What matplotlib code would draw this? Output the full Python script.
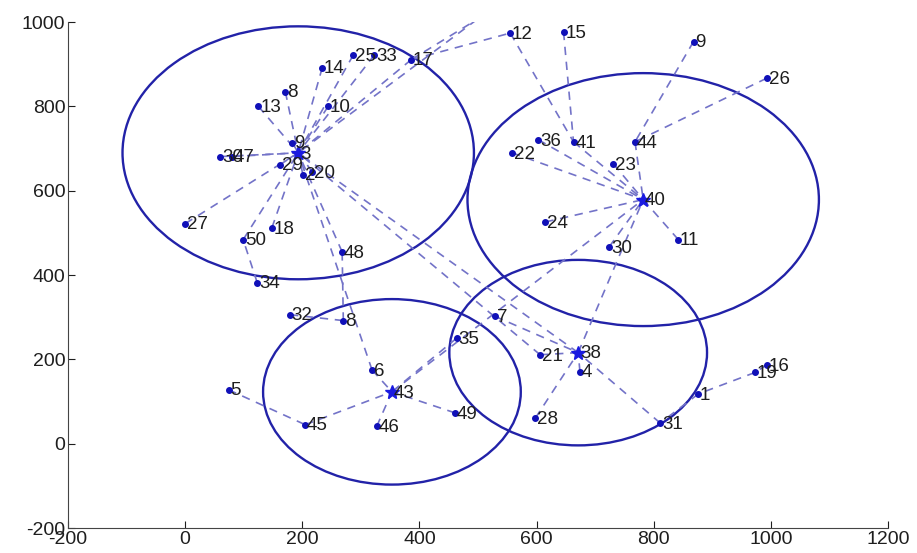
import matplotlib
matplotlib.use("Agg")
import matplotlib.pyplot as plt
from matplotlib.patches import Circle

plt.rcParams['font.family'] = ['Liberation Sans', 'DejaVu Sans']
plt.rcParams['axes.unicode_minus'] = False

# node positions (label, x, y)
node_labels = ['13', '8', '14', '25', '33', '17', '10', '9', '30', '47', '29', '2', '20',
               '27', '18', '50', '48', '34',
               '12', '15', '9', '26', '36', '41', '44', '22', '23', '24', '11', '30',
               '32', '8', '6', '5', '45', '46', '49', '35', '7',
               '21', '4', '28', '31', '1', '19', '16']
node_x = [125, 171, 234, 287, 323, 386, 244, 183, 60, 80, 162, 201, 217,
          0, 148, 99, 268, 123,
          555, 646, 868, 993, 603, 663, 768, 558, 731, 615, 842, 724,
          179, 270, 319, 74, 205, 327, 461, 464, 529,
          606, 674, 598, 811, 876, 973, 993]
node_y = [800, 835, 892, 922, 922, 911, 800, 714, 681, 681, 662, 638, 645,
          522, 512, 484, 455, 382,
          974, 977, 954, 867, 721, 716, 716, 690, 664, 526, 484, 467,
          306, 292, 175, 128, 45, 41, 73, 251, 302,
          211, 171, 61, 49, 118, 169, 187]

# cluster heads
head_labels = ['3', '40', '43', '38']
head_x = [193, 782, 353, 671]
head_y = [690, 579, 123, 216]
radius = [300, 300, 220, 220]

# extra bend point just above the top of the axes
bend_x = [498]
bend_y = [1006]

# links by index: 'n<i>' = node, 'h<i>' = head, 'b0' = bend point
links = [
    ('n0', 'h0'), ('n1', 'h0'), ('n2', 'h0'), ('n3', 'h0'), ('n4', 'h0'), ('n5', 'h0'),
    ('n6', 'h0'), ('n7', 'h0'), ('n8', 'h0'), ('n9', 'h0'), ('n10', 'h0'), ('n11', 'h0'),
    ('n12', 'h0'), ('n13', 'h0'), ('n14', 'h0'), ('n15', 'h0'), ('n16', 'h0'),
    ('n17', 'n15'), ('b0', 'h0'), ('n5', 'n18'), ('n5', 'b0'),
    ('n18', 'n23'), ('n19', 'n23'), ('n23', 'h1'), ('n20', 'n24'), ('n21', 'n24'),
    ('n24', 'h1'), ('n22', 'h1'), ('n25', 'h1'), ('n26', 'h1'), ('n27', 'h1'),
    ('n28', 'h1'), ('n29', 'h1'),
    ('n30', 'n31'), ('n31', 'n16'), ('n32', 'h0'), ('n32', 'h2'), ('n33', 'n34'),
    ('n34', 'h2'), ('n35', 'h2'), ('n36', 'h2'), ('n37', 'h2'), ('h2', 'h1'),
    ('n39', 'h3'), ('n40', 'h3'), ('n41', 'h3'), ('n42', 'h3'), ('n38', 'h3'),
    ('n43', 'n42'), ('n44', 'n43'), ('n45', 'n44'), ('h3', 'h1'),
    ('n39', 'h0'), ('h3', 'h0'),
]


def point(key):
    kind, i = key[0], int(key[1:])
    if kind == 'n':
        return node_x[i], node_y[i]
    if kind == 'h':
        return head_x[i], head_y[i]
    return bend_x[i], bend_y[i]


fig = plt.figure(figsize=(9.17, 5.53), dpi=100)
ax = fig.add_axes([0.0742, 0.0452, 0.8942, 0.9148])

for a, b in links:
    xa, ya = point(a)
    xb, yb = point(b)
    ax.plot([xa, xb], [ya, yb], '--', color='#7373c8', linewidth=1.2, dashes=(5, 4))

for cx, cy, r in zip(head_x, head_y, radius):
    ax.add_patch(Circle((cx, cy), r, fill=False, edgecolor='#2222a8', linewidth=1.7))

ax.plot(node_x, node_y, '.', color='#1010b8', markersize=8)
ax.plot(head_x, head_y, '*', color='#1a1ae0', markersize=10)

for lab, x, y in zip(node_labels, node_x, node_y):
    ax.text(x + 3, y - 3, lab, fontsize=13.5, va='center', ha='left', color='#1e1e1e')
for lab, x, y in zip(head_labels, head_x, head_y):
    ax.text(x + 3, y - 3, lab, fontsize=13.5, va='center', ha='left', color='#1e1e1e')

ax.set_xlim(-200, 1200)
ax.set_ylim(-200, 1000)
ax.set_xticks(range(-200, 1201, 200))
ax.set_yticks(range(-200, 1001, 200))
ax.tick_params(direction='in', length=5, labelsize=14, colors='#1e1e1e', pad=2)
ax.spines['top'].set_visible(False)
ax.spines['right'].set_visible(False)
for s in ['left', 'bottom']:
    ax.spines[s].set_color('#444444')

fig.savefig('out.png', dpi=100)
